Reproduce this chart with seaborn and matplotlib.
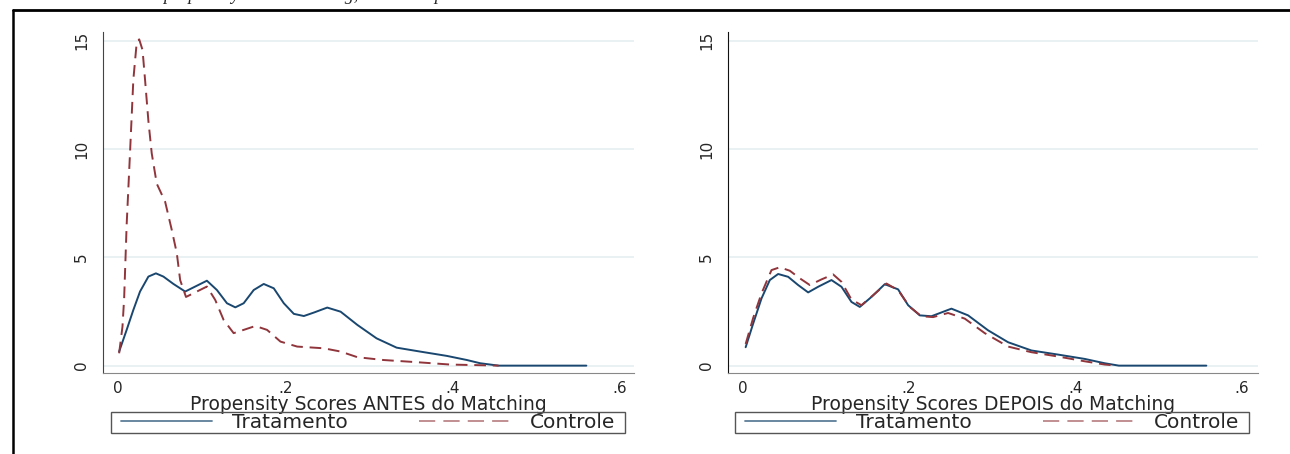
import numpy as np
import pandas as pd
import seaborn as sns
import matplotlib.pyplot as plt
from matplotlib.lines import Line2D
from matplotlib.patches import Rectangle

# Densidade do propensity score - Tratamento x Controle
trat_x_antes = [0.001, 0.010, 0.018, 0.026, 0.036, 0.045, 0.054, 0.066, 0.080, 0.092,
                0.106, 0.118, 0.130, 0.140, 0.150, 0.162, 0.174, 0.186, 0.198, 0.210,
                0.222, 0.234, 0.250, 0.266, 0.286, 0.309, 0.333, 0.361, 0.393, 0.417,
                0.433, 0.455, 0.560]
trat_y_antes = [0.65, 1.65, 2.57, 3.42, 4.11, 4.26, 4.11, 3.77, 3.42, 3.65,
                3.92, 3.49, 2.88, 2.69, 2.88, 3.49, 3.77, 3.57, 2.88, 2.39,
                2.29, 2.45, 2.68, 2.49, 1.88, 1.26, 0.83, 0.65, 0.45, 0.26,
                0.11, 0.0, 0.0]

ctrl_x_antes = [0.001, 0.005, 0.007, 0.010, 0.014, 0.018, 0.022, 0.025, 0.029, 0.032,
                0.036, 0.040, 0.046, 0.056, 0.064, 0.070, 0.074, 0.081, 0.094, 0.106,
                0.116, 0.126, 0.138, 0.150, 0.164, 0.178, 0.194, 0.214, 0.246, 0.266,
                0.286, 0.317, 0.357, 0.397, 0.433, 0.455]
ctrl_y_antes = [0.57, 1.80, 3.11, 6.50, 9.80, 13.2, 14.9, 15.06, 14.57, 13.2,
                11.3, 9.80, 8.40, 7.57, 6.26, 5.19, 3.95, 3.17, 3.42, 3.65,
                3.03, 2.11, 1.50, 1.65, 1.83, 1.65, 1.11, 0.88, 0.80, 0.65,
                0.39, 0.26, 0.16, 0.05, 0.02, 0.0]

trat_x_depois = [0.004, 0.013, 0.023, 0.033, 0.043, 0.055, 0.067, 0.079, 0.091, 0.107,
                 0.119, 0.131, 0.141, 0.155, 0.171, 0.187, 0.199, 0.213, 0.227, 0.251,
                 0.271, 0.295, 0.319, 0.347, 0.379, 0.411, 0.435, 0.452, 0.557]
trat_y_depois = [0.85, 1.94, 3.10, 3.95, 4.23, 4.10, 3.72, 3.38, 3.64, 3.95,
                 3.64, 2.94, 2.71, 3.17, 3.76, 3.52, 2.79, 2.32, 2.28, 2.63,
                 2.32, 1.63, 1.08, 0.70, 0.51, 0.31, 0.11, 0.0, 0.0]

ctrl_x_depois = [0.004, 0.013, 0.023, 0.035, 0.045, 0.057, 0.069, 0.081, 0.095, 0.109,
                 0.119, 0.131, 0.143, 0.157, 0.173, 0.187, 0.201, 0.215, 0.229, 0.247,
                 0.267, 0.291, 0.319, 0.347, 0.379, 0.411, 0.435, 0.450]
ctrl_y_depois = [1.00, 2.20, 3.33, 4.41, 4.54, 4.38, 4.03, 3.72, 3.98, 4.21,
                 3.87, 3.05, 2.79, 3.25, 3.79, 3.48, 2.71, 2.28, 2.24, 2.43,
                 2.17, 1.50, 0.88, 0.62, 0.42, 0.20, 0.05, 0.0]

grupos = ['Tratamento', 'Controle']
xlabels = ['Propensity Scores ANTES do Matching', 'Propensity Scores DEPOIS do Matching']
xticks = [0, 0.2, 0.4, 0.6]
xticklabels = ['0', '.2', '.4', '.6']
yticks = [0, 5, 10, 15]

cor_trat = '#1a476f'
cor_ctrl = '#90353b'

sns.set_style('white')
plt.rcParams['font.family'] = ['DejaVu Sans']

W, H = 1290, 454
fig = plt.figure(figsize=(W / 100, H / 100), dpi=100)

# posicoes dos paineis em pixels (esquerda, direita, limites x, caixa da legenda)
paineis = [(103, 634, (-0.0183, 0.617), 111), (728, 1258, (-0.0172, 0.619), 735)]
y_base, y_topo = 373, 32

dados = [
    (trat_x_antes, trat_y_antes, ctrl_x_antes, ctrl_y_antes),
    (trat_x_depois, trat_y_depois, ctrl_x_depois, ctrl_y_depois),
]

for i, ((px0, px1, xlim, lx), (tx, ty, cx, cy)) in enumerate(zip(paineis, dados)):
    aw, ah = px1 - px0, y_base - y_topo
    ax = fig.add_axes([px0 / W, 1 - y_base / H, aw / W, ah / H])
    df_t = pd.DataFrame({'x': tx, 'y': ty})
    df_c = pd.DataFrame({'x': cx, 'y': cy})
    sns.lineplot(data=df_t, x='x', y='y', ax=ax, color=cor_trat, lw=1.4,
                 estimator=None, sort=False, legend=False)
    sns.lineplot(data=df_c, x='x', y='y', ax=ax, color=cor_ctrl, lw=1.4,
                 estimator=None, sort=False, legend=False)
    ax.lines[-1].set_dashes((6, 3.5))

    ax.set_xlim(*xlim)
    ax.set_ylim(-0.34, 15.4)
    ax.set_yticks(yticks)
    ax.set_yticklabels([str(v) for v in yticks], rotation=90, va='center', fontsize=11)
    ax.set_xticks(xticks)
    ax.set_xticklabels(xticklabels, fontsize=11)
    ax.tick_params(axis='y', length=7, width=1, color='#888888', pad=3)
    ax.tick_params(axis='x', length=5, width=1, color='#888888', pad=1)
    ax.set_xlabel(xlabels[i], fontsize=13.5, labelpad=-1)
    ax.set_ylabel('')
    ax.grid(axis='y', color='#e6eff1', lw=1.2)
    ax.set_axisbelow(True)
    for s in ['top', 'right']:
        ax.spines[s].set_visible(False)
    ax.spines['left'].set_color('#444444' if i == 0 else '#111111')
    ax.spines['bottom'].set_color('#888888')

    # caixa da legenda (412-433 px) e conteudo
    bx = (lx - px0) / aw
    by = (y_base - 433) / ah
    bw, bh = 514 / aw, 21 / ah
    ax.add_patch(Rectangle((bx, by), bw, bh, transform=ax.transAxes, fill=False,
                           edgecolor='#555555', lw=1, clip_on=False))
    handles = [Line2D([], [], color=cor_trat, lw=1.3, alpha=0.7),
               Line2D([], [], color=cor_ctrl, lw=1.3, alpha=0.6, dashes=(9, 4.5))]
    ax.legend(handles, grupos, ncol=2, mode='expand', loc='center',
              bbox_to_anchor=(bx + 10 / aw, by, bw - 20 / aw, bh), borderaxespad=0,
              fontsize=14.5, handlelength=4.5, frameon=False, borderpad=0,
              handletextpad=1.0, columnspacing=3)

# titulo cortado no topo e moldura
fig.text(60 / W, 1 - 0.5 / H, 'Densidade do propensity score matching, antes e depois',
         family=['Liberation Serif', 'DejaVu Serif'], style='italic', fontsize=13,
         va='baseline', ha='left')
fig.add_artist(Line2D([12.5 / W, 1], [1 - 9.5 / H, 1 - 9.5 / H], color='black', lw=2,
                      transform=fig.transFigure))
fig.add_artist(Line2D([12.5 / W, 12.5 / W], [1 - 9.5 / H, 0], color='black', lw=1.8,
                      transform=fig.transFigure))

fig.savefig('out.png', dpi=100)
